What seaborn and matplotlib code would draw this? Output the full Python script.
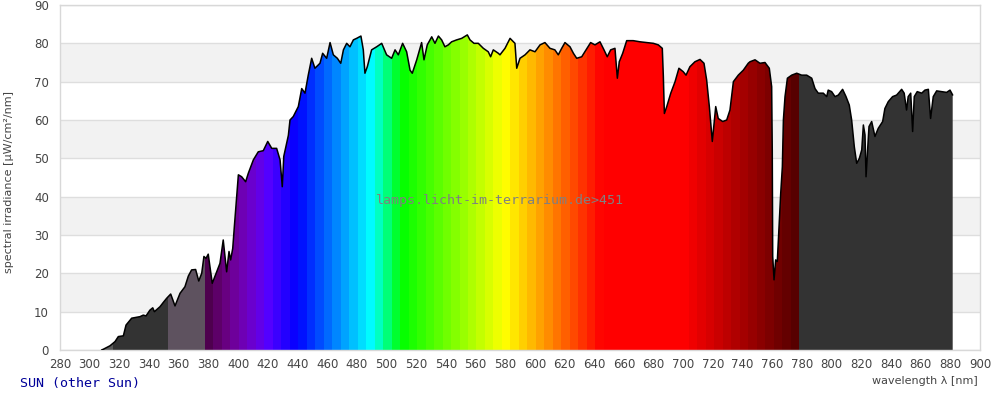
import numpy as np
import matplotlib
matplotlib.use('Agg')
import matplotlib.pyplot as plt
import seaborn as sns

# spectrum (wavelength nm, irradiance uW/cm2/nm)
wavelength = [308.0, 309.2, 313.7, 317.1, 319.3, 322.7, 324.5, 328.3, 333.9, 336.1,
              338.0, 340.6, 342.5, 343.6, 347.4, 349.6, 351.9, 354.6, 357.5, 360.9,
              364.2, 366.5, 368.7, 371.4, 373.5, 375.5, 377.0, 378.4, 379.9, 382.6,
              385.6, 387.8, 390.0, 392.3, 393.9, 395.0, 396.4, 397.5, 399.1, 400.2,
              402.4, 405.1, 406.9, 410.3, 413.6, 417.0, 420.0, 422.7, 426.0, 428.3,
              429.8, 430.8, 433.9, 435.0, 437.2, 440.6, 442.9, 445.1, 447.3, 449.6,
              451.8, 455.2, 457.0, 459.7, 462.0, 464.2, 466.9, 469.2, 471.0, 473.2,
              475.4, 477.7, 479.9, 482.8, 484.4, 485.5, 487.1, 490.0, 493.4, 496.8,
              500.1, 503.5, 505.8, 508.0, 510.9, 513.6, 515.9, 517.4, 520.4, 523.7,
              525.3, 527.5, 530.5, 532.7, 535.0, 537.2, 539.4, 541.7, 543.9, 547.3,
              550.7, 554.5, 556.3, 559.0, 561.9, 565.3, 568.6, 570.2, 572.0, 575.4,
              576.5, 579.9, 583.3, 586.6, 587.8, 590.0, 593.4, 596.7, 600.1, 603.5,
              606.8, 610.2, 613.5, 615.8, 618.1, 620.3, 623.7, 626.0, 628.2, 631.6,
              634.5, 637.6, 640.5, 643.9, 646.6, 648.8, 651.1, 654.0, 655.6, 656.9,
              659.2, 661.9, 666.3, 670.9, 675.4, 679.9, 683.2, 685.9, 686.6, 687.3,
              688.9, 691.6, 694.5, 697.1, 700.0, 701.9, 704.5, 707.9, 711.3, 714.0,
              715.8, 717.6, 719.6, 721.9, 723.6, 726.6, 729.3, 731.5, 733.8, 737.1,
              740.5, 743.8, 745.0, 748.4, 751.7, 755.1, 758.0, 759.6, 760.0, 760.3,
              761.2, 762.3, 763.4, 764.8, 765.7, 766.8, 767.5, 768.6, 770.2, 773.1,
              776.5, 779.8, 783.2, 786.6, 788.8, 791.0, 794.4, 796.7, 797.7, 800.0,
              802.3, 804.5, 807.4, 809.7, 811.9, 813.5, 815.3, 816.9, 818.7, 820.3,
              821.4, 822.5, 823.2, 824.1, 825.2, 827.0, 829.2, 831.4, 834.4, 835.9,
              838.2, 841.1, 843.8, 847.2, 848.9, 850.5, 851.6, 853.3, 854.6, 855.7,
              857.7, 860.7, 862.9, 865.2, 866.7, 868.5, 870.8, 874.2, 877.5, 879.8,
              881.6]
irradiance = [0.0, 0.2, 1.1, 2.2, 3.5, 3.7, 6.5, 8.3, 8.7, 9.1,
              8.9, 10.4, 11.0, 10.0, 11.3, 12.4, 13.5, 14.6, 11.5, 14.8,
              16.5, 19.3, 20.9, 21.0, 18.0, 20.0, 24.4, 23.9, 25.0, 17.4,
              20.4, 22.6, 28.7, 20.4, 25.7, 23.5, 26.5, 32.2, 40.0, 45.7,
              45.2, 43.9, 46.1, 49.6, 51.7, 52.0, 54.4, 52.6, 52.6, 49.6,
              42.6, 50.5, 56.0, 60.0, 60.9, 63.5, 68.2, 67.0, 71.7, 76.1,
              73.5, 74.8, 77.4, 76.1, 80.2, 77.0, 76.1, 74.8, 78.3, 80.0,
              79.1, 80.9, 81.3, 81.9, 78.3, 72.2, 73.9, 78.3, 79.1, 80.0,
              77.0, 76.1, 78.3, 77.0, 80.0, 77.8, 73.0, 72.2, 75.7, 80.2,
              75.7, 79.6, 81.7, 80.0, 81.9, 80.9, 79.1, 79.6, 80.4, 80.9,
              81.3, 82.2, 80.9, 80.0, 80.0, 78.7, 77.8, 76.5, 78.3, 77.4,
              77.0, 78.7, 81.3, 80.0, 73.5, 76.1, 77.0, 78.3, 77.8, 79.6,
              80.2, 78.7, 78.3, 77.0, 78.7, 80.2, 79.1, 77.4, 76.1, 76.5,
              78.3, 80.2, 79.6, 80.4, 78.3, 76.5, 78.3, 78.7, 70.9, 75.2,
              77.4, 80.7, 80.7, 80.4, 80.2, 80.0, 79.6, 78.7, 71.4, 61.7,
              63.5, 67.0, 70.0, 73.5, 72.6, 71.7, 73.9, 75.2, 75.8, 74.8,
              70.4, 63.5, 54.4, 63.5, 60.4, 59.6, 60.0, 62.6, 70.0, 71.7,
              73.0, 74.8, 75.2, 75.7, 74.8, 75.0, 73.5, 68.7, 52.2, 24.4,
              18.3, 23.5, 23.1, 33.9, 40.9, 47.8, 60.0, 66.1, 70.9, 71.7,
              72.2, 71.7, 71.7, 70.9, 68.2, 67.0, 67.0, 66.1, 67.8, 67.4,
              66.1, 66.5, 68.0, 66.1, 63.9, 60.0, 53.0, 48.7, 50.0, 52.2,
              58.7, 56.1, 45.2, 51.3, 58.3, 59.6, 55.7, 57.8, 59.6, 63.0,
              64.8, 66.1, 66.5, 68.0, 67.0, 62.6, 66.1, 67.0, 57.0, 66.1,
              67.4, 67.0, 67.8, 68.0, 60.4, 66.1, 67.6, 67.4, 67.2, 67.8,
              66.5]

x_ticks = list(range(280, 901, 20))
y_ticks = list(range(0, 91, 10))
gray_bands = [(10, 20), (30, 40), (50, 60), (70, 80)]


def wl_color(w):
    # spectral colour of a band (Bruton style, no gamma)
    if w < 440:
        r, g, b = (440 - w) / 60, 0, 1
    elif w < 490:
        r, g, b = 0, (w - 440) / 50, 1
    elif w < 510:
        r, g, b = 0, 1, (510 - w) / 20
    elif w < 580:
        r, g, b = (w - 510) / 70, 1, 0
    elif w < 645:
        r, g, b = 1, (645 - w) / 65, 0
    else:
        r, g, b = 1, 0, 0
    if w < 420:
        f = 0.3 + 0.7 * (w - 380) / 40
    elif w > 700:
        f = 0.3 + 0.7 * (780 - w) / 80
    else:
        f = 1.0
    return (r * f, g * f, b * f)


# colour bands: UV part, visible spectrum, IR part
band_edges = list(np.linspace(377.5, 778.2, 71))
band_left = [300, 316, 352.6] + band_edges[:-1] + [778.2]
band_width = [16, 36.6, 24.9] + list(np.diff(band_edges)) + [110]
band_colors = ['#5a5a5a', '#333333', '#5e525f'] + \
    [wl_color((a + b) / 2) for a, b in zip(band_edges[:-1], band_edges[1:])] + ['#333333']

sns.set_style('white')
plt.rcParams['font.family'] = ['DejaVu Sans']

fig = plt.figure(figsize=(10, 4), dpi=100)
ax = fig.add_axes([0.06, 0.125, 0.92, 0.8625])

for lo, hi in gray_bands:
    ax.axhspan(lo, hi, color='#f2f2f2', zorder=0, lw=0)

# area under curve used as clip for the coloured bands
area = ax.fill_between(wavelength, irradiance, 0, facecolor='none', edgecolor='none')
clip = area.get_paths()[0]

bars = ax.bar(band_left, [90] * len(band_left), width=band_width, align='edge',
              color=band_colors, linewidth=0, zorder=2)
for p in bars.patches:
    p.set_clip_path(clip, ax.transData)

sns.lineplot(x=wavelength, y=irradiance, ax=ax, color='black', lw=1.1,
             sort=False, estimator=None, zorder=3)

ax.set_xlim(280, 900)
ax.set_ylim(0, 90)
ax.set_xticks(x_ticks)
ax.set_yticks(y_ticks)
ax.tick_params(axis='both', length=0, labelsize=8.5, colors='#444444')
ax.tick_params(axis='x', pad=6)
ax.tick_params(axis='y', pad=8)
ax.grid(axis='y', color='#dedede', lw=1, zorder=1)
ax.set_axisbelow(True)
for s in ax.spines.values():
    s.set_color('#d8d8d8')
    s.set_linewidth(1)

fig.text(0.009, 0.545, 'spectral irradiance [µW/cm²/nm]', rotation=90, ha='center',
         va='center', fontsize=8, color='#444444')
fig.text(0.978, 0.047, 'wavelength λ [nm]', ha='right', va='center',
         fontsize=8, color='#444444')
fig.text(0.02, 0.04, 'SUN (other Sun)', ha='left', va='center',
         fontsize=9.6, color='#000099', family='DejaVu Sans Mono')
ax.text(576.5, 38.9, 'lamps.licht-im-terrarium.de>451', ha='center', va='center',
        fontsize=9.6, color='#808080', family='DejaVu Sans Mono', zorder=4)

fig.savefig('out.png', dpi=100)
